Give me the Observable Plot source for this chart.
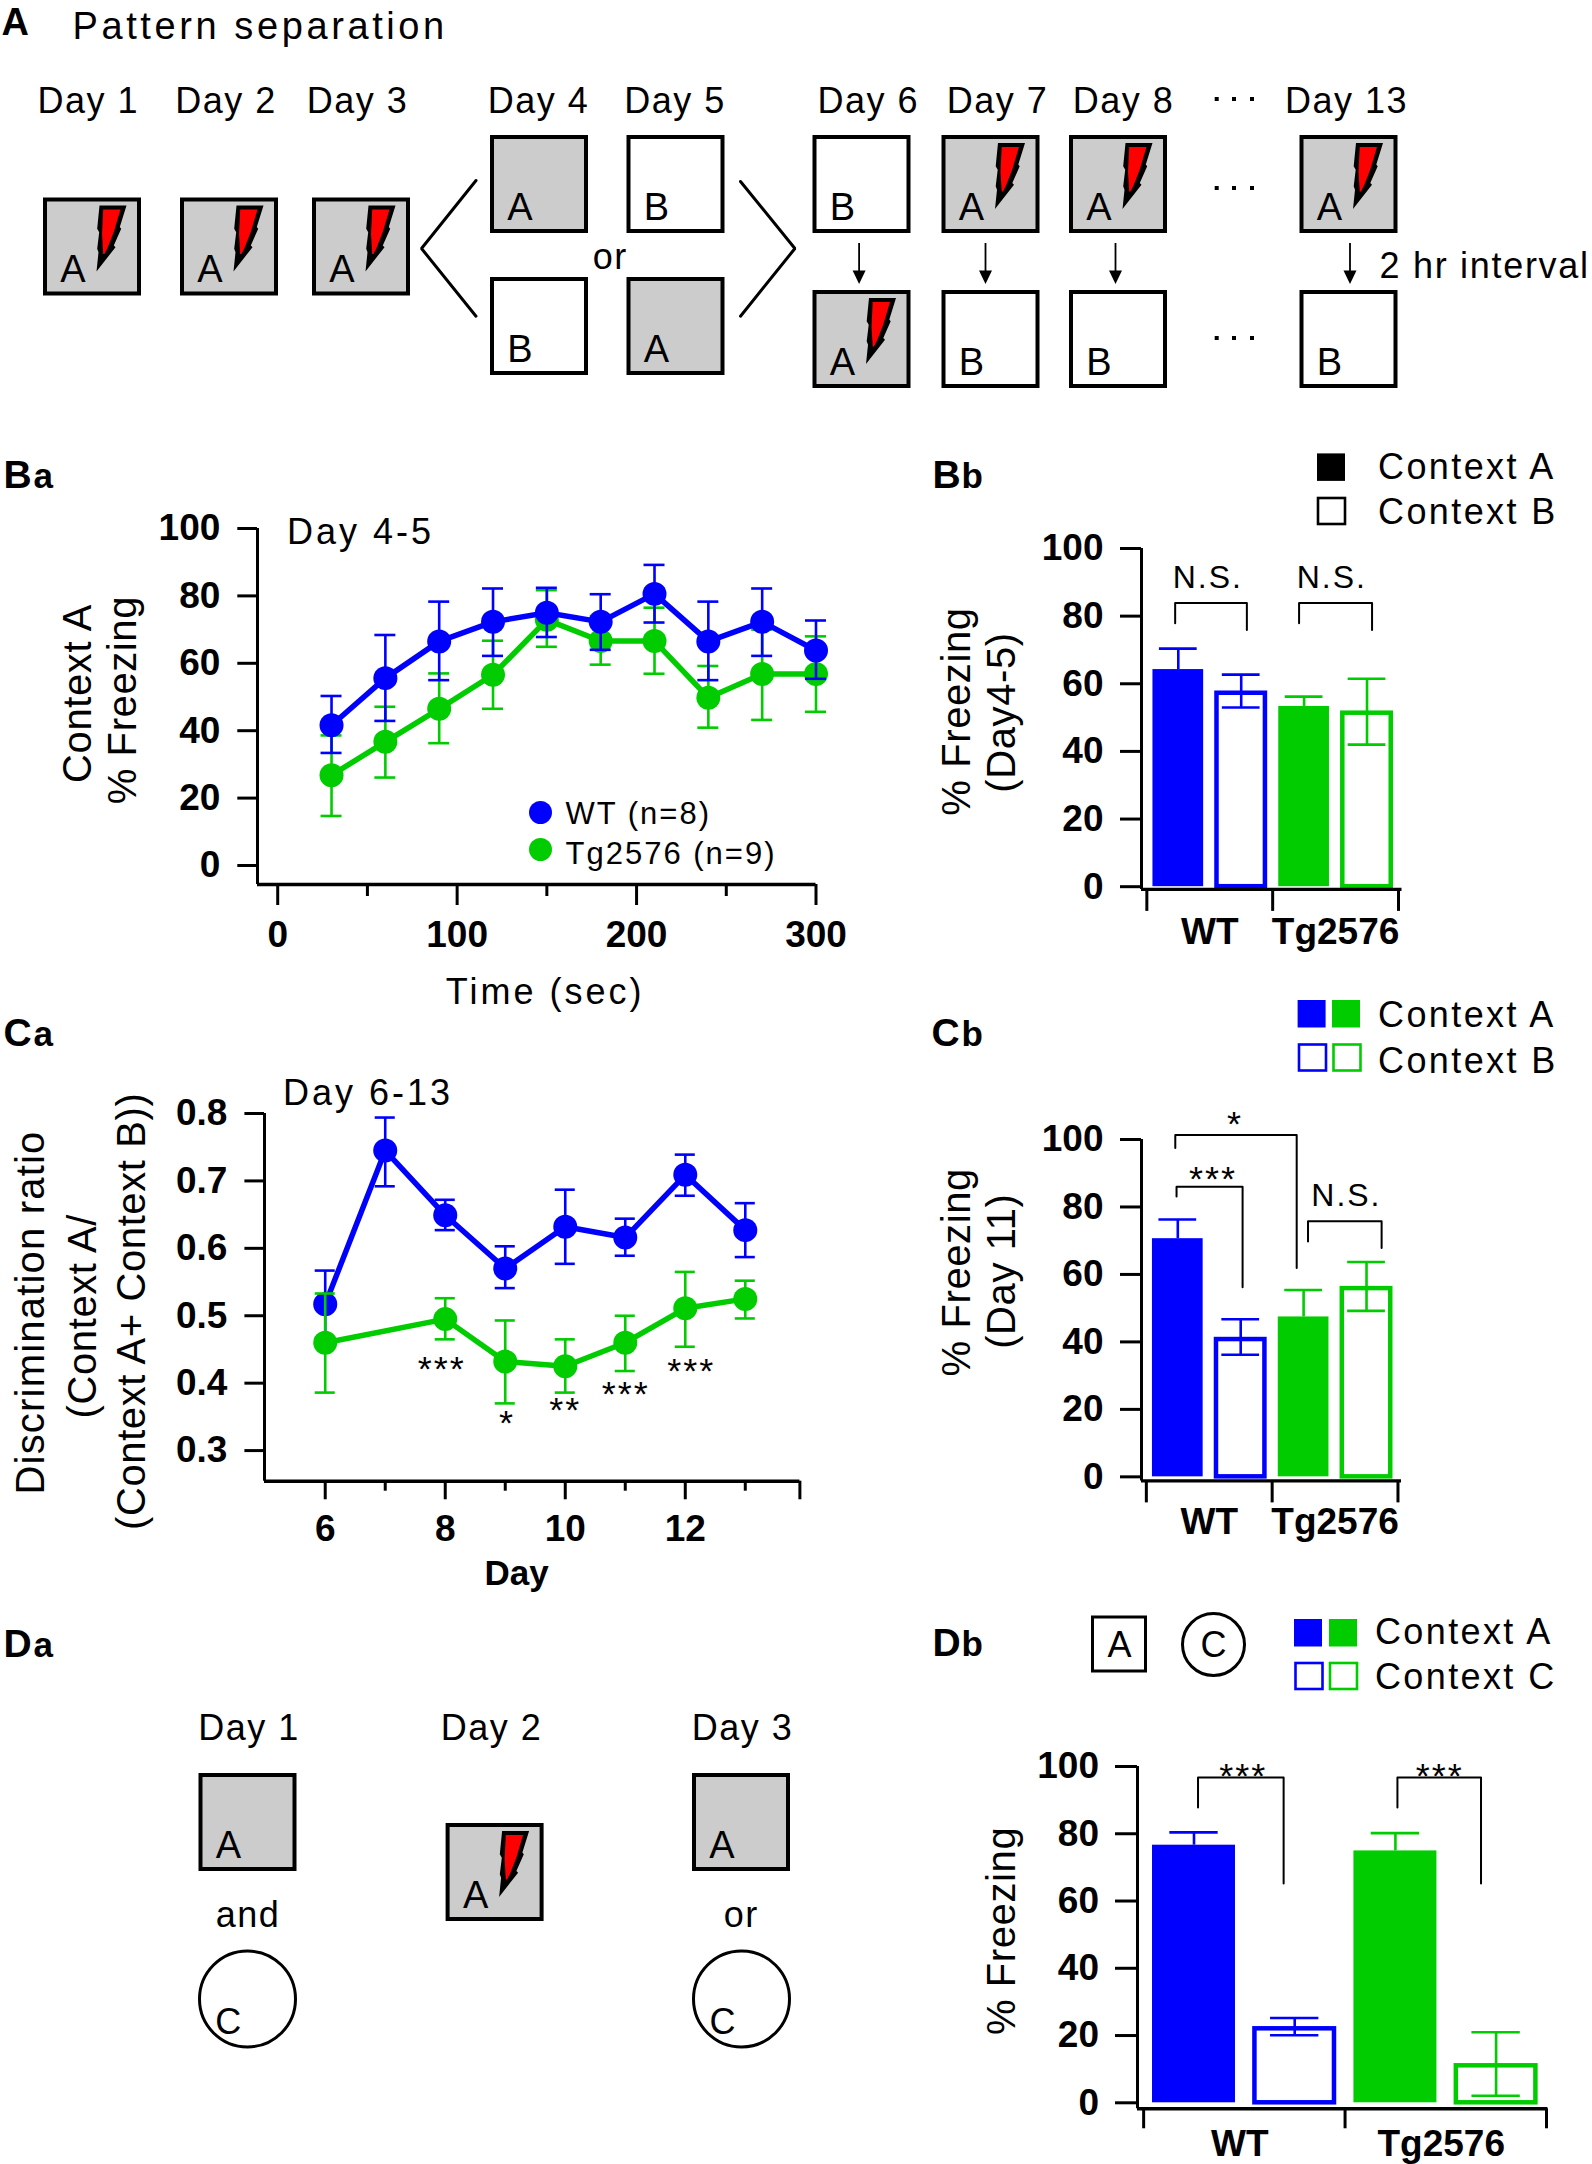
<!DOCTYPE html>
<html><head><meta charset="utf-8">
<style>
html,body{margin:0;padding:0;background:#fff}
#page{position:relative;width:1592px;height:2164px;overflow:hidden;font-family:"Liberation Sans",Arial,sans-serif}
#page svg{position:absolute;overflow:visible;background:transparent;font-family:"Liberation Sans",Arial,sans-serif;max-width:none}
</style>
<script src="https://cdn.jsdelivr.net/npm/d3@7"></script>
<script src="https://cdn.jsdelivr.net/npm/@observablehq/plot@0.6"></script>
</head><body><div id="page"></div>
<script>
// ---------- Panel Ba ----------
const baTime   = [30,60,90,120,150,180,210,240,270,300];
const baWtMean = [41.6,55.6,66.5,72.3,75,72.3,80.6,66.5,72.3,63.8];
const baWtHigh = [50.3,68.4,78.3,82.2,82.4,80.5,89.2,78.3,82.2,72.7];
const baWtLow  = [33.4,42.9,55,62.2,67.8,64,72.1,55,62.2,55.4];
const baTgMean = [26.8,36.7,46.5,56.6,72.9,66.6,66.6,49.8,56.8,56.8];
const baTgHigh = [38.6,47.1,57,66.7,81.7,74,76.5,59.2,70,68];
const baTgLow  = [14.7,26.1,36.3,46.5,64.9,59.6,56.9,40.9,43.2,45.6];
// ---------- Panel Ca ----------
const caWtDay  = [6,7,8,9,10,11,12,13];
const caWtMean = [.517,.745,.649,.570,.632,.616,.709,.627];
const caWtHigh = [.567,.794,.672,.603,.687,.644,.739,.667];
const caWtLow  = [.467,.692,.627,.541,.577,.589,.678,.587];
const caTgDay  = [6,8,9,10,11,12,13];
const caTgMean = [.460,.495,.432,.425,.460,.511,.525];
const caTgHigh = [.533,.526,.493,.465,.500,.565,.552];
const caTgLow  = [.386,.465,.370,.386,.418,.454,.496];
const caStarText = ["***","*","**","***","***"];
const caStarDay  = [7.94,9.03,10,11.01,12.1];
const caStarY    = [.426,.346,.365,.389,.422];
// ---------- Bar panels ----------
const barGroup   = ["WT","WT","Tg2576","Tg2576"];
const barContext = ["filled","open","filled","open"];
const bbMean = [64.2,57.2,53.3,51.3];
const bbHigh = [70.4,62.7,56.2,61.5];
const bbLow  = [64.2,53,53.3,42];
const cbMean = [70.6,40.7,47.4,55.8];
const cbHigh = [76.3,46.7,55.4,63.7];
const cbLow  = [70.6,36.2,47.4,49.2];
const dbMean = [76.6,22,74.9,11];
const dbHigh = [80.4,25.2,80.2,21];
const dbLow  = [76.6,20.1,74.9,2.1];
const percentTicks = [0,20,40,60,80,100];

const BLUE="#0000ff", GREEN="#00cc00", RED="#ff0000", GREY="#cccccc";
const groupColor = {WT:BLUE, Tg2576:GREEN};
const page = document.getElementById("page");
const ML=130, MR=40, MT=50, MB=90;

function place(frame, marks, extra){
  const svg = Plot.plot({
    width: frame.right-frame.left+ML+MR, height: frame.bottom-frame.top+MT+MB,
    marginLeft:ML, marginRight:MR, marginTop:MT, marginBottom:MB,
    style:{background:"transparent",overflow:"visible"},
    ...extra, marks
  });
  svg.style.left=(frame.left-ML)+"px"; svg.style.top=(frame.top-MT)+"px";
  page.append(svg);
}
function spaced(spacing){
  return spacing ? {render(i,s,v,d,c,next){const g=next(i,s,v,d,c); g.style.letterSpacing=spacing+"px"; return g;}} : {};
}
function yAxis(ticks,size,pad,fmt){
  return Plot.axisY({ticks,tickSize:size,tickPadding:pad,fontSize:37,fontWeight:700,strokeWidth:3,label:null,tickFormat:fmt||(d=>d)});
}
function series(xs,ms,hs,ls){return xs.map((x,i)=>({x,m:ms[i],h:hs[i],l:ls[i]}));}
function lineSeries(d,color,cap,r){
  return [
    Plot.ruleX(d,{x:"x",y1:"l",y2:"h",stroke:color,strokeWidth:2.6}),
    Plot.ruleY(d,{y:"h",x1:e=>e.x-cap,x2:e=>e.x+cap,stroke:color,strokeWidth:2.6}),
    Plot.ruleY(d,{y:"l",x1:e=>e.x-cap,x2:e=>e.x+cap,stroke:color,strokeWidth:2.6}),
    Plot.line(d,{x:"x",y:"m",stroke:color,strokeWidth:5.5}),
    Plot.dot(d,{x:"x",y:"m",r,fill:color,stroke:"none"})
  ];
}

// ---- Ba line chart ----
{
  const wt=series(baTime,baWtMean,baWtHigh,baWtLow), tg=series(baTime,baTgMean,baTgHigh,baTgLow);
  place({left:256.5,right:815,top:528,bottom:884},[
    ...lineSeries(tg,GREEN,5.85,12),
    ...lineSeries(wt,BLUE,5.85,12),
    Plot.ruleX([-11.26],{stroke:"#000",strokeWidth:3}),
    Plot.ruleY([-5.64],{stroke:"#000",strokeWidth:3.4}),
    yAxis([0,20,40,60,80,100],19.7,17.5),
    Plot.axisX({ticks:[0,100,200,300],tickSize:21,tickPadding:15,fontSize:37,fontWeight:700,strokeWidth:3,label:null,tickFormat:d=>d}),
    Plot.axisX({ticks:[50,150,250],tickSize:12,strokeWidth:3,label:null,tickFormat:()=>""})
  ],{x:{domain:[-11.26,300]},y:{domain:[-5.64,100]}});
}
// ---- Ca line chart ----
{
  const wt=series(caWtDay,caWtMean,caWtHigh,caWtLow), tg=series(caTgDay,caTgMean,caTgHigh,caTgLow);
  const stars=caStarText.map((t,i)=>({t,x:caStarDay[i],y:caStarY[i]}));
  place({left:264.3,right:799.7,top:1112.7,bottom:1480.4},[
    ...lineSeries(wt,BLUE,.167,12),
    ...lineSeries(tg,GREEN,.167,12),
    Plot.text(stars,{x:"x",y:"y",text:"t",fontSize:36,lineAnchor:"bottom",dy:15,...spaced(2)}),
    Plot.ruleX([4.988],{stroke:"#000",strokeWidth:3}),
    Plot.ruleY([.2546],{stroke:"#000",strokeWidth:3.4}),
    yAxis([.3,.4,.5,.6,.7,.8],19.6,17.5,d3.format(".1f")),
    Plot.axisX({ticks:[6,8,10,12],tickSize:18.6,tickPadding:15,fontSize:37,fontWeight:700,strokeWidth:3,label:null,tickFormat:d=>d}),
    Plot.axisX({ticks:[13.91],tickSize:18.6,strokeWidth:3,label:null,tickFormat:()=>""}),
    Plot.axisX({ticks:[7,9,11,13],tickSize:10,strokeWidth:3,label:null,tickFormat:()=>""})
  ],{x:{domain:[4.988,13.91]},y:{domain:[.2546,.8]}});
}
// ---- Bar charts ----
function barChart(frame,xDomain,yDomain,mean,high,low,capHalf,fillHalf,openHalf,tickLen,yTick,yPad,groupPad,groupShift,brackets,notes){
  const d=mean.map((m,i)=>({x:i,m,h:high[i],l:low[i],group:barGroup[i],ctx:barContext[i]}));
  const filled=d.filter(e=>e.ctx==="filled"), open=d.filter(e=>e.ctx==="open");
  const bracketRows=brackets.flatMap((b,k)=>[
    {k,x:b[0],y:b[3]},{k,x:b[0],y:b[2]},{k,x:b[1],y:b[2]},{k,x:b[1],y:b[4]}]);
  place(frame,[
    Plot.rect(filled,{x1:e=>e.x-fillHalf,x2:e=>e.x+fillHalf,y1:0,y2:"m",fill:e=>groupColor[e.group],inset:0}),
    Plot.rect(open,{x1:e=>e.x-openHalf,x2:e=>e.x+openHalf,y1:0,y2:"m",fill:"#fff",stroke:e=>groupColor[e.group],strokeWidth:4.5,inset:0}),
    Plot.ruleX(d,{x:"x",y1:"l",y2:"h",stroke:e=>groupColor[e.group],strokeWidth:2.6}),
    Plot.ruleY(d,{y:"h",x1:e=>e.x-capHalf,x2:e=>e.x+capHalf,stroke:e=>groupColor[e.group],strokeWidth:2.6}),
    Plot.ruleY(open,{y:"l",x1:e=>e.x-capHalf,x2:e=>e.x+capHalf,stroke:e=>groupColor[e.group],strokeWidth:2.6}),
    Plot.line(bracketRows,{x:"x",y:"y",z:"k",stroke:"#000",strokeWidth:2}),
    Plot.text(notes.filter(n=>n.t==="N.S."),{x:"x",y:"y",text:"t",fontSize:32,lineAnchor:"bottom",...spaced(2)}),
    Plot.text(notes.filter(n=>n.t!=="N.S."),{x:"x",y:"y",text:"t",fontSize:36,lineAnchor:"bottom",dy:17,...spaced(2)}),
    Plot.ruleX([xDomain[0]],{stroke:"#000",strokeWidth:3}),
    Plot.ruleY([yDomain[0]],{stroke:"#000",strokeWidth:3.4}),
    yAxis(percentTicks,yTick,yPad),
    Plot.axisX({ticks:[-.5,1.5,3.5],tickSize:tickLen,strokeWidth:3,label:null,tickFormat:()=>""}),
    Plot.axisX({ticks:[.5-groupShift,2.5-groupShift],tickSize:0,tickPadding:groupPad,fontSize:37,fontWeight:700,label:null,tickFormat:v=>v<1.5?"WT":"Tg2576"})
  ],{x:{domain:xDomain},y:{domain:yDomain}});
}
barChart({left:1140.5,right:1401,top:548.1,bottom:889},[-.585,3.556],[-.8,100],bbMean,bbHigh,bbLow,.30,.403,.385,22,21,17,28,0,
  [[-.05,1.09,83.9,77.9,75.9],[1.92,3.08,83.9,77.9,75.9]],
  [{t:"N.S.",x:.47,y:88.3},{t:"N.S.",x:2.44,y:88.3}]);
barChart({left:1141,right:1401,top:1139,bottom:1480.4},[-.577,3.556],[-1.2,100],cbMean,cbHigh,cbLow,.30,.403,.385,22,21,17,27,0,
  [[-.04,1.89,101.3,97.5,61.9],[-.02,1.03,86,83.1,56.2],[2.07,3.24,75.8,69.8,67.8]],
  [{t:"*",x:.91,y:106},{t:"***",x:.56,y:89.9},{t:"N.S.",x:2.68,y:80.2}]);
barChart({left:1137,right:1547.4,top:1765.7,bottom:2108},[-.561,3.514],[-1.78,100],dbMean,dbHigh,dbLow,.24,.412,.395,20,22,16.5,21,.045,
  [[.04,.89,96.7,87.8,65.2],[2.02,2.85,96.7,87.8,65.2]],
  [{t:"***",x:.49,y:98.7},{t:"***",x:2.44,y:98.7}]);

// ---------- Schematic layer (figure pixels) ----------
const boxW=98, boxH=98;
const greyBoxes=[[43,197.5],[180,197.5],[312,197.5],[490,135],[626.5,277],[941.5,135],[1069,135],[1299.5,135],[812.5,290],[198.5,1773],[445.6,1823],[692,1773]];
const whiteBoxes=[[626.5,135],[490,277],[812.5,135],[941.5,290],[1069,290],[1299.5,290]];
const boltOrigins=[[43,197.5],[180,197.5],[312,197.5],[941.5,135],[1069,135],[1299.5,135],[812.5,290],[445.6,1823]];
const boltOuter=[[56,7.5],[83,7.5],[76.3,29],[77.7,30.8],[70.3,47.5],[72,49.2],[53,73.5],[55,54.2],[53.7,50.8],[55.7,34.2],[53.7,30.8]];
const boltInner=[[59.7,11.5],[77,11.5],[70.3,34],[64,50],[61,56],[59.7,56],[58.5,36]];
const boxLetters=[["A",43,197.5],["A",180,197.5],["A",312,197.5],["A",490,135],["B",626.5,135],["B",490,277],["A",626.5,277],
  ["B",812.5,135],["A",941.5,135],["A",1069,135],["A",1299.5,135],["A",812.5,290],["B",941.5,290],["B",1069,290],["B",1299.5,290],
  ["A",198.5,1773],["A",445.6,1823],["A",692,1773]];
const dayLabels=[["Day 1",87.8,112],["Day 2",225.5,112],["Day 3",357,112],["Day 4",538,112],["Day 5",674.5,112],
  ["Day 6",867.7,112],["Day 7",997,112],["Day 8",1123,112],["Day 13",1346,112],["or",609.7,268],
  ["Day 1",248.6,1739.3],["Day 2",491,1739.3],["Day 3",741.9,1739.3],["and",247.5,1926.7],["or",740.7,1926.7],
  ["C",228.4,2033],["C",722.8,2033],["A",1119.8,1656.6],["C",1213.8,1656.6]];
const wideLabels=[["Day 4-5",360,543.6],["Day 6-13",367.6,1104.8],["Time (sec)",544.6,1003.7]];
const leftLabels=[["Pattern separation",72,38,38,3.6],
  ["WT (n=8)",565,823,31,2],["Tg2576 (n=9)",565,863,31,2],
  ["Context A",1377.5,478,36,2.4],["Context B",1377.5,523.7,36,2.4],
  ["Context A",1377.5,1026.4,36,2.4],["Context B",1377.5,1072,36,2.4],
  ["Context A",1374.4,1643,36,2.4],["Context C",1374.4,1688,36,2.4]];
const intervalLabel=[["2 hr interval",1379,277]];
const rotatedLabels=[["Context A",90,693],["% Freezing",135,699.6],["% Freezing",969,711],["(Day4-5)",1014,712],
  ["(Context A/",95.4,1315.7],["(Context A+ Context B))",144.8,1310.8],
  ["% Freezing",969,1271.8],["(Day 11)",1014,1270.7],["% Freezing",1014,1930.4]];
const rotatedWide=[["Discrimination ratio",43,1312]];
const panelBig=[["A",1,34.5,38],["B",3,487,39],["B",932,487,39],["C",3,1045.5,39],["C",931,1045.4,39],["D",3,1656.7,39],["D",932,1655.9,39]];
const panelSub=[["a",33,487],["b",961,487],["a",33,1045.5],["b",961,1045.4],["a",33,1656.7],["b",961,1655.9]];
const chevrons=[[[475.5,180],[421,248],[475.5,315.7]],[[740,181],[794.4,248],[740,315.7]]];
const arrowX=[858.6,985,1115,1349.5];
const ellipsisDots=[99,188,338].flatMap(y=>[1216.7,1234,1252].map(x=>[x,y]));
const circles=[[247,1998.5,48],[741,1998.5,48],[1213,1644,31]];
const legendSolid=[[1317,453.4,"#000"],[1297.6,1000,BLUE],[1332,1000,GREEN],[1294,1619,BLUE],[1329,1619,GREEN]];
const legendOpen=[[1318,498,"#000"],[1299,1044.5,BLUE],[1333.5,1044.5,GREEN],[1295.5,1663,BLUE],[1330,1663,GREEN]];
const legendDots=[[540,812,BLUE],[540,849,GREEN]];

const polyRows=s=>boltOrigins.flatMap((o,k)=>[...s,s[0]].map(p=>({k,x:o[0]+p[0],y:o[1]+p[1]})));
const heads=arrowX.flatMap(x=>[[x-6.5,270],[x+6.5,270],[x,283.5],[x-6.5,270]].map(p=>({k:x,x:p[0],y:p[1]})));
const chevRows=chevrons.flatMap((c,k)=>c.map(p=>({k,x:p[0],y:p[1]})));
const row=a=>({t:a[0],x:a[1],y:a[2],s:a[3],l:a[4]});
function txt(list,o,ls){return Plot.text(list,{x:"x",y:"y",text:"t",lineAnchor:"bottom",...o,...spaced(ls)});}
const leftRows=leftLabels.map(row);
const overlay=Plot.plot({
  width:1592,height:2164,margin:0,
  x:{domain:[0,1592],range:[0,1592],axis:null},y:{domain:[0,2164],range:[0,2164],axis:null},
  r:{type:"identity"},
  style:{background:"transparent"},
  marks:[
    Plot.rect(greyBoxes,{x1:d=>d[0]+2,x2:d=>d[0]+boxW-2,y1:d=>d[1]+2,y2:d=>d[1]+boxH-2,fill:GREY,stroke:"#000",strokeWidth:4}),
    Plot.rect(whiteBoxes,{x1:d=>d[0]+2,x2:d=>d[0]+boxW-2,y1:d=>d[1]+2,y2:d=>d[1]+boxH-2,fill:"#fff",stroke:"#000",strokeWidth:4}),
    Plot.line(polyRows(boltOuter),{x:"x",y:"y",z:"k",fill:"#000",stroke:"none"}),
    Plot.line(polyRows(boltInner),{x:"x",y:"y",z:"k",fill:RED,stroke:"none"}),
    Plot.line(chevRows,{x:"x",y:"y",z:"k",stroke:"#000",strokeWidth:3,strokeLinejoin:"miter"}),
    Plot.ruleX(arrowX,{y1:243,y2:272,stroke:"#000",strokeWidth:1.8}),
    Plot.line(heads,{x:"x",y:"y",z:"k",fill:"#000",stroke:"none"}),
    Plot.rect(ellipsisDots,{x1:d=>d[0]-2,x2:d=>d[0]+2,y1:d=>d[1]-2,y2:d=>d[1]+2,fill:"#000"}),
    Plot.dot(circles,{x:d=>d[0],y:d=>d[1],r:d=>d[2],stroke:"#000",strokeWidth:3,fill:"none"}),
    Plot.rect([[1091,1615.5]],{x1:d=>d[0]+1.5,x2:d=>d[0]+54.5,y1:d=>d[1]+1.5,y2:d=>d[1]+55.5,stroke:"#000",strokeWidth:3,fill:"none"}),
    Plot.rect(legendSolid,{x1:d=>d[0],x2:d=>d[0]+28,y1:d=>d[1],y2:d=>d[1]+27.5,fill:d=>d[2]}),
    Plot.rect(legendOpen,{x1:d=>d[0],x2:d=>d[0]+27,y1:d=>d[1],y2:d=>d[1]+26,stroke:d=>d[2],fill:"none",strokeWidth:2.6}),
    Plot.dot(legendDots,{x:d=>d[0],y:d=>d[1],r:()=>11.5,fill:d=>d[2]}),
    txt(boxLetters.map(b=>({t:b[0],x:b[1]+29.5,y:b[2]+84})),{fontSize:38},0),
    txt(dayLabels.map(row),{fontSize:36},1.5),
    txt(wideLabels.map(row),{fontSize:36},3),
    txt(leftRows.filter(r=>r.s===38),{fontSize:38,textAnchor:"start"},3.6),
    txt(leftRows.filter(r=>r.s===36),{fontSize:36,textAnchor:"start"},2.4),
    txt(leftRows.filter(r=>r.s===31),{fontSize:31,textAnchor:"start"},2),
    txt(intervalLabel.map(row),{fontSize:36,textAnchor:"start"},1.7),
    txt(rotatedLabels.map(row),{fontSize:40,rotate:-90},.6),
    txt(rotatedWide.map(row),{fontSize:40,rotate:-90},1.2),
    txt([["Day",516,1584]].map(row),{fontSize:35,fontWeight:700},0),
    txt(panelBig.map(row),{fontSize:d=>d.s,fontWeight:700,textAnchor:"start"},0),
    txt(panelSub.map(row),{fontSize:35,fontWeight:700,textAnchor:"start"},0)
  ]
});
overlay.style.left="0";overlay.style.top="0";
page.prepend(overlay);
</script></body></html>
